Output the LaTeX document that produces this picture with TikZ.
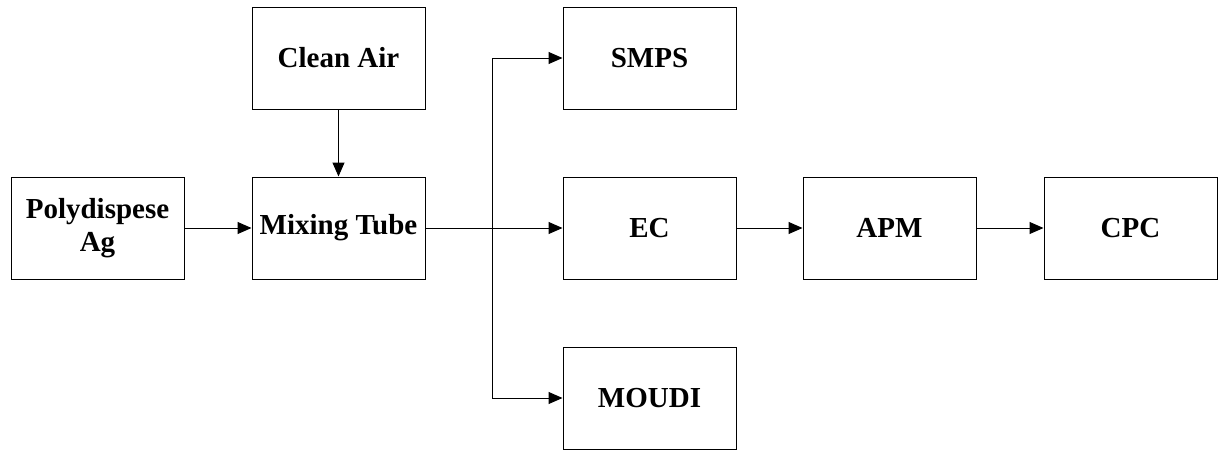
\documentclass[tikz,border=0pt]{standalone}
\usepackage{fontspec}
\setmainfont{Liberation Serif}
\usetikzlibrary{arrows.meta}

\begin{document}
\begin{tikzpicture}[x=0.75pt,y=-0.75pt,
		box/.style={draw, line width=0.75pt, minimum width=129.75pt, minimum height=76.5pt,
			align=center, font=\fontsize{21.75}{25}\selectfont\bfseries},
		flow/.style={line width=0.75pt, -{Triangle[length=10.5pt,width=9pt]}}]
		\useasboundingbox (0,0) rectangle (1218,450);
		
		% source side
		\node[box] (poly) at (97.5,228) {Polydispese\\Ag};
		\node[box] (mix) at (338.5,228) {Mixing Tube};
		\node[box] (air) at (338.5,58) {Clean Air};
		
		% instruments
		\node[box] (smps) at (649.5,58) {SMPS};
		\node[box] (ec) at (649.5,228) {EC};
		\node[box] (moudi) at (649.5,398) {MOUDI};
		\node[box] (apm) at (889.5,228) {APM};
		\node[box] (cpc) at (1130.5,228) {CPC};
		
		\coordinate (split) at (492,228);
		
		\draw[flow] (poly) -- (mix);
		\draw[flow] (air) -- (mix);
		\draw[line width=0.75pt] (mix) -- (split);
		\draw[flow] (split) -- (ec);
		\draw[flow] (split) |- (smps);
		\draw[flow] (split) |- (moudi);
		\draw[flow] (ec) -- (apm);
		\draw[flow] (apm) -- (cpc);
		
\end{tikzpicture}
\end{document}
